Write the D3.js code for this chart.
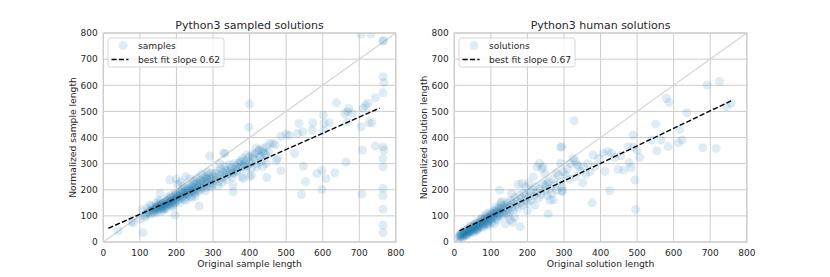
<!DOCTYPE html>
<html>
<head>
<meta charset="utf-8">
<script src="https://cdn.jsdelivr.net/npm/d3@7"></script>
<style>
  body { margin: 0; background: #fff; }
  text { font-family: "DejaVu Sans", sans-serif; fill: #262626; }
</style>
</head>
<body>
<div id="chart"></div>
<script>
// Data
const xTicks = [0, 100, 200, 300, 400, 500, 600, 700, 800];
const yTicks = [0, 100, 200, 300, 400, 500, 600, 700, 800];
const titles = ["Python3 sampled solutions", "Python3 human solutions"];
const xLabels = ["Original sample length", "Original solution length"];
const yLabels = ["Normalized sample length", "Normalized solution length"];
const legendNames = ["samples", "solutions"];
const fitSlopes = [0.62, 0.67];
const fitIntercepts = [44, 33];
const fitRanges = [[14, 756], [14, 759]];

const sampledPoints = [
  [41,43],[109,36],[100,90],[77,78],[82,74],[105,123],[196,103],[262,138],[291,329],[329,340],
  [182,238],[200,240],[225,250],[155,186],[127,142],[355,192],[355,218],[447,247],[486,273],[436,290],
  [473,311],[523,339],[542,182],[547,290],[553,231],[584,262],[598,275],[598,201],[609,243],[633,265],
  [664,306],[707,183],[709,352],[744,367],[765,364],[768,352],[765,320],[765,288],[765,205],[765,177],
  [765,125],[765,65],[765,36],[765,769],[766,771],[705,796],[732,796],[765,633],[768,610],[765,571],
  [744,552],[723,531],[717,522],[638,533],[671,511],[668,499],[681,492],[660,492],[711,511],[705,441],
  [735,456],[727,456],[668,460],[602,486],[604,454],[618,456],[573,456],[535,454],[571,428],[545,422],
  [400,528],[398,439],[500,413],[509,409],[486,405],[532,416],[603,428],[455,377],[464,377],[470,372],
  [427,352],[436,345],[409,326],[445,332],[477,320],[400,300],[382,288],[364,275],[405,256],[382,243],
  [378,307],[392,333],[428,326],[446,300],[419,288],[401,250],[378,250],[355,262],[333,275],[319,300],
  [296,211],[282,243],[333,339],
  [112,100],[118,108],[122,112],[125,118],[128,106],[131,121],[134,115],[136,126],[139,119],[141,131],
  [115,95],[120,128],[133,137],[138,110],
  [142,124],[144,133],[146,128],[148,140],[150,121],[151,136],[153,131],[155,144],[156,126],[158,138],
  [159,133],[161,147],[162,129],[164,141],[165,136],[167,150],[168,131],[169,144],[145,150],[152,160],
  [160,118],[166,124],[147,115],[157,152],
  [171,139],[172,152],[174,146],[175,158],[177,141],[178,155],[180,149],[181,163],[183,144],[184,158],
  [186,152],[187,168],[189,147],[190,161],[192,156],[193,172],[195,150],[196,165],[198,160],[199,176],
  [176,170],[185,178],[191,140],[197,185],[173,128],[188,135],
  [201,168],[202,180],[204,158],[205,174],[207,186],[208,165],[210,178],[211,192],[213,170],[214,184],
  [216,197],[217,175],[219,189],[220,163],[222,181],[223,200],[225,186],[226,172],[228,194],[229,205],
  [203,220],[212,230],[218,215],[227,160],[209,150],
  [231,182],[232,198],[234,210],[235,188],[237,203],[238,176],[240,196],[241,214],[243,191],[244,207],
  [246,220],[247,195],[249,211],[250,185],[252,204],[253,225],[255,198],[256,216],[258,230],[259,192],
  [236,240],[248,235],[257,245],[242,170],[251,175],
  [261,210],[263,224],[265,200],[266,236],[268,218],[270,206],[271,232],[273,245],[275,215],[277,228],
  [278,252],[280,208],[282,240],[284,222],[286,258],[288,235],[290,214],[292,246],[294,228],[296,262],
  [298,240],[269,260],[279,196],[287,268],[299,220],
  [302,250],[305,235],[307,262],[310,244],[313,272],[316,232],[318,256],[321,280],[324,245],[327,266],
  [330,250],[333,290],[336,258],[339,274],[342,262],[345,296],[348,270],[351,284],[354,265],[357,300],
  [360,278],[314,215],[325,228],[338,238],[352,248],
  [363,290],[366,270],[369,302],[372,285],[375,310],[378,292],[382,320],[386,300],[390,312],[394,290],
  [398,325],[402,305],[407,335],[412,318],[416,340],[420,300],[425,350],[430,328],[436,358],[441,340],
  [447,365],[452,345],[389,278],[405,282],[418,360],[433,310]
];

const humanPoints = [
  [12,18],[14,24],[16,20],[17,28],[19,22],[20,30],[22,26],[23,34],[25,21],[26,31],
  [28,36],[29,27],[31,40],[32,33],[34,29],[35,42],[37,36],[38,46],[40,32],[18,35],
  [27,45],[33,24],[39,40],[21,15],[36,50],
  [41,44],[42,38],[44,49],[45,42],[47,53],[48,46],[50,40],[51,56],[53,49],[54,60],
  [56,52],[57,45],[59,63],[60,56],[62,50],[63,67],[65,59],[66,71],[68,62],[69,55],
  [43,58],[52,35],[58,72],[64,48],[67,80],[46,62],[55,68],[61,44],
  [71,66],[72,74],[74,60],[75,78],[77,70],[78,82],[80,64],[81,76],[83,86],[84,72],
  [86,90],[87,68],[89,80],[90,94],[92,76],[93,88],[95,98],[96,82],[98,92],[99,104],
  [73,88],[79,56],[85,100],[91,70],[97,112],[76,92],[88,108],[94,64],
  [101,86],[102,98],[104,110],[105,92],[107,104],[108,116],[110,96],[111,108],[113,120],[114,90],
  [116,112],[117,126],[119,100],[120,118],[122,106],[123,130],[125,114],[126,98],[128,124],[129,140],
  [103,75],[112,134],[118,84],[124,199],[127,150],[109,70],
  [131,112],[133,128],[135,104],[137,142],[139,120],[141,134],[143,110],[145,150],[147,126],[150,140],
  [152,118],[154,160],[157,132],[160,148],[163,125],[166,170],[169,142],[172,156],[175,130],[178,180],
  [181,150],[184,166],[187,140],[190,188],[193,160],[196,176],[199,150],[157,186],[130,154],[153,84],
  [160,75],[180,59],[175,220],[185,225],[196,210],[140,70],[165,95],[148,100],
  [203,172],[207,190],[210,160],[214,200],[218,176],[222,212],[226,188],[230,168],[234,204],[238,182],
  [242,222],[246,196],[250,215],[254,178],[258,230],[262,205],[266,186],[270,240],[275,218],[280,198],
  [285,256],[290,230],[295,210],[216,250],[226,288],[233,301],[203,225],[253,225],[271,161],[294,193],
  [257,107],[240,280],[248,260],[262,160],[280,265],[298,269],[291,301],[291,362],[294,365],[242,288],
  [296,196],[220,140],[200,120],
  [328,464],[325,320],[335,298],[353,288],[351,227],[371,269],[377,150],[380,333],[407,339],[420,346],
  [412,271],[425,196],[439,324],[448,278],[464,275],[475,365],[478,303],[484,285],[489,363],[489,409],
  [494,237],[496,124],[500,352],[507,324],[310,280],[318,300],[330,310],[340,290],[345,270],[360,260],
  [305,255],[315,240],[332,250],[365,300],[385,290],[395,320],[430,340],[455,330],
  [539,390],[551,452],[554,349],[565,390],[580,550],[587,535],[585,365],[613,380],[616,431],[623,390],
  [636,495],[680,361],[692,601],[716,358],[725,614],[744,518],[757,531]
];

const pointSets = [sampledPoints, humanPoints];

// Layout
const width = 830, height = 277;
const plotLefts = [103.3, 454.3];
const plotW = 292.5;
const plotTop = 33, plotBottom = 242;
const blue = "#1f77b4";
const gridColor = "#cccccc";
const markR = 4.5, markAlpha = 0.14;

const svg = d3.select("#chart")
  .append("svg")
  .attr("width", width)
  .attr("height", height);

const defs = svg.append("defs");

plotLefts.forEach((left, i) => {
  const x = d3.scaleLinear().domain([0, 800]).range([left, left + plotW]);
  const y = d3.scaleLinear().domain([0, 800]).range([plotBottom, plotTop]);
  const g = svg.append("g");

  defs.append("clipPath").attr("id", `clip${i}`)
    .append("rect")
    .attr("x", left).attr("y", plotTop)
    .attr("width", plotW).attr("height", plotBottom - plotTop);

  // Grid
  g.selectAll(".vgrid").data(xTicks).enter().append("line")
    .attr("x1", d => x(d)).attr("x2", d => x(d))
    .attr("y1", plotTop).attr("y2", plotBottom)
    .attr("stroke", gridColor).attr("stroke-width", 1);
  g.selectAll(".hgrid").data(yTicks).enter().append("line")
    .attr("x1", left).attr("x2", left + plotW)
    .attr("y1", d => y(d)).attr("y2", d => y(d))
    .attr("stroke", gridColor).attr("stroke-width", 1);

  const inner = g.append("g").attr("clip-path", `url(#clip${i})`);

  // Identity line
  inner.append("line")
    .attr("x1", x(0)).attr("y1", y(0))
    .attr("x2", x(800)).attr("y2", y(800))
    .attr("stroke", "#d3d3d3").attr("stroke-width", 1.2);

  // Points
  inner.selectAll("circle").data(pointSets[i]).enter().append("circle")
    .attr("cx", d => x(d[0]))
    .attr("cy", d => y(d[1]))
    .attr("r", markR)
    .attr("fill", blue)
    .attr("fill-opacity", markAlpha);

  // Fit line
  const [fx0, fx1] = fitRanges[i];
  inner.append("line")
    .attr("x1", x(fx0)).attr("y1", y(fitSlopes[i] * fx0 + fitIntercepts[i]))
    .attr("x2", x(fx1)).attr("y2", y(fitSlopes[i] * fx1 + fitIntercepts[i]))
    .attr("stroke", "#000").attr("stroke-width", 1.4)
    .attr("stroke-dasharray", "5.2,2.2");

  // Spines
  g.append("rect")
    .attr("x", left).attr("y", plotTop)
    .attr("width", plotW).attr("height", plotBottom - plotTop)
    .attr("fill", "none").attr("stroke", gridColor).attr("stroke-width", 1.2);

  // Tick labels
  g.selectAll(".xt").data(xTicks).enter().append("text")
    .attr("x", d => x(d)).attr("y", plotBottom + 14)
    .attr("text-anchor", "middle").attr("font-size", 9)
    .text(d => d);
  g.selectAll(".yt").data(yTicks).enter().append("text")
    .attr("x", left - 5.5).attr("y", d => y(d) + 3.3)
    .attr("text-anchor", "end").attr("font-size", 9)
    .text(d => d);

  // Title and axis labels
  g.append("text")
    .attr("x", left + plotW / 2).attr("y", plotTop - 4.5)
    .attr("text-anchor", "middle").attr("font-size", 11)
    .text(titles[i]);
  g.append("text")
    .attr("x", left + plotW / 2).attr("y", plotBottom + 24.5)
    .attr("text-anchor", "middle").attr("font-size", 9.2)
    .text(xLabels[i]);
  g.append("text")
    .attr("transform", `translate(${left - 27},${(plotTop + plotBottom) / 2}) rotate(-90)`)
    .attr("text-anchor", "middle").attr("font-size", 9.2)
    .text(yLabels[i]);

  // Legend
  const lg = g.append("g").attr("transform", `translate(${left + 4.7},${plotTop + 5})`);
  lg.append("rect")
    .attr("width", 116).attr("height", 29).attr("rx", 2.5)
    .attr("fill", "#fff").attr("fill-opacity", 0.8)
    .attr("stroke", gridColor).attr("stroke-width", 0.8);
  lg.append("circle")
    .attr("cx", 15).attr("cy", 7.5).attr("r", markR)
    .attr("fill", blue).attr("fill-opacity", markAlpha);
  lg.append("line")
    .attr("x1", 3.5).attr("x2", 20.5).attr("y1", 21.5).attr("y2", 21.5)
    .attr("stroke", "#000").attr("stroke-width", 1.4)
    .attr("stroke-dasharray", "5.2,2.2");
  lg.append("text").attr("x", 30).attr("y", 11).attr("font-size", 9.1)
    .text(legendNames[i]);
  lg.append("text").attr("x", 30).attr("y", 25).attr("font-size", 9.1)
    .text(`best fit slope ${fitSlopes[i].toFixed(2)}`);
});
</script>
</body>
</html>
